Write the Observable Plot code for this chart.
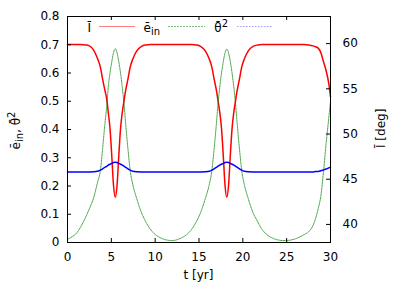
<!DOCTYPE html>
<html><head><meta charset="utf-8">
<script src="https://cdn.jsdelivr.net/npm/d3@7"></script>
<script src="https://cdn.jsdelivr.net/npm/@observablehq/plot@0.6"></script>
<style>body{margin:0;background:#fff} svg{display:block}</style>
</head><body><div id="chart"></div>
<script>
// time [yr]
const time = [0,0.5,1,1.5,2,2.5,3,3.4,3.75,4.0,4.25,4.5,4.65,4.85,5.05,5.25,5.45,5.65,5.85,6.05,6.25,6.45,6.65,6.9,7.15,7.45,7.9,8.45,8.95,9.45,9.95,10.45,10.95,11.45,11.8,12.3,12.67,13.17,13.67,14.17,14.67,15.17,15.72,16.17,16.47,16.72,16.97,17.17,17.37,17.57,17.77,17.97,18.17,18.37,18.57,18.77,18.97,19.17,19.37,19.62,19.87,20.17,20.62,21.17,21.72,22.17,22.67,23.17,23.67,24.17,24.53,25,25.5,26,26.5,27,27.5,28,28.3,28.6,28.9,29.2,29.5,29.8,30];
// eccentricity e_in (left axis)
const eIn = [0.011,0.02,0.032,0.055,0.085,0.12,0.16,0.21,0.255,0.33,0.415,0.49,0.55,0.60,0.64,0.672,0.686,0.672,0.64,0.60,0.55,0.49,0.415,0.33,0.255,0.205,0.155,0.105,0.072,0.047,0.03,0.019,0.012,0.008,0.007,0.008,0.012,0.019,0.03,0.047,0.072,0.105,0.155,0.205,0.255,0.33,0.415,0.49,0.55,0.60,0.64,0.672,0.684,0.672,0.64,0.60,0.55,0.49,0.415,0.33,0.255,0.205,0.155,0.105,0.072,0.047,0.03,0.019,0.012,0.008,0.007,0.007,0.009,0.013,0.02,0.028,0.038,0.06,0.085,0.12,0.165,0.25,0.35,0.44,0.50];
// inclination I [deg] (right axis)
const incDeg = [59.9,59.9,59.9,59.9,59.85,59.75,59.25,58.4,57.4,56.1,54.9,53.7,52.4,50.6,47.6,44.3,43.0,44.3,47.6,50.6,52.4,53.7,54.9,56.1,57.4,58.3,59.2,59.7,59.85,59.9,59.9,59.9,59.9,59.9,59.9,59.9,59.9,59.9,59.9,59.9,59.85,59.7,59.2,58.3,57.4,56.1,54.9,53.7,52.4,50.6,47.6,44.3,43.0,44.3,47.6,50.6,52.4,53.7,54.9,56.1,57.4,58.3,59.2,59.7,59.85,59.9,59.9,59.9,59.9,59.9,59.9,59.9,59.9,59.9,59.9,59.9,59.85,59.75,59.65,59.5,59.0,58.0,57.0,55.6,54.1];
// theta^2 (left axis)
const theta2 = [0.25,0.25,0.25,0.25,0.25,0.25,0.2505,0.252,0.256,0.261,0.266,0.270,0.274,0.277,0.280,0.283,0.284,0.283,0.280,0.277,0.274,0.270,0.266,0.261,0.256,0.252,0.2505,0.25,0.25,0.25,0.25,0.25,0.25,0.25,0.25,0.25,0.25,0.25,0.25,0.25,0.25,0.25,0.2505,0.252,0.256,0.261,0.266,0.270,0.274,0.277,0.280,0.283,0.284,0.283,0.280,0.277,0.274,0.270,0.266,0.261,0.256,0.252,0.2505,0.25,0.25,0.25,0.25,0.25,0.25,0.25,0.25,0.25,0.25,0.25,0.25,0.25,0.25,0.25,0.251,0.2515,0.254,0.257,0.260,0.264,0.267];

const xTicks = [0,5,10,15,20,25,30];
const yTicks = [0,0.1,0.2,0.3,0.4,0.5,0.6,0.7,0.8];
const degTicks = [40,45,50,55,60];
const xDomain = [0,30];
const yDomain = [0,0.8];
const degDomain = [38,63];

const toLeft = d => (d - degDomain[0]) / (degDomain[1] - degDomain[0]) * (yDomain[1] - yDomain[0]) + yDomain[0];
const toDeg = v => (v - yDomain[0]) / (yDomain[1] - yDomain[0]) * (degDomain[1] - degDomain[0]) + degDomain[0];

const W = 409, H = 286, mL = 67, mR = 79, mT = 16, mB = 44;
const fw = W - mL - mR, fh = H - mT - mB;
const idx = time.map((_, i) => i);

const chart = Plot.plot({
  width: W, height: H,
  marginLeft: mL, marginRight: mR, marginTop: mT, marginBottom: mB,
  x: {domain: xDomain},
  y: {domain: yDomain},
  style: {fontFamily: "'DejaVu Sans', sans-serif", fontSize: "12px", color: "black", background: "white", overflow: "visible"},
  marks: [
    Plot.line(idx, {x: i => time[i], y: i => toLeft(incDeg[i]), stroke: "#ff0000", strokeWidth: 1.5, curve: "monotone-x"}),
    Plot.line(idx, {x: i => time[i], y: i => eIn[i], stroke: "#008000", strokeWidth: 1, strokeOpacity: 0.7, strokeDasharray: "2,1", curve: "monotone-x"}),
    Plot.line(idx, {x: i => time[i], y: i => theta2[i], stroke: "#0000ff", strokeWidth: 1.5, curve: "monotone-x"}),
    Plot.frame({stroke: "black"}),
    Plot.ruleX(xTicks, {x: d => d, insetTop: fh - 4, stroke: "black"}),
    Plot.ruleX(xTicks, {x: d => d, insetBottom: fh - 4, stroke: "black"}),
    Plot.ruleY(yTicks, {y: d => d, insetRight: fw - 4, stroke: "black"}),
    Plot.ruleY(degTicks, {y: d => toLeft(d), insetLeft: fw - 4, stroke: "black"}),
    Plot.axisX(xTicks, {tickSize: 0, tickPadding: 10, label: null, fontSize: 12}),
    Plot.axisY(yTicks, {tickSize: 0, tickPadding: 8, label: null, fontSize: 12, tickFormat: d => d === 0 ? "0" : d.toFixed(1)}),
    Plot.axisY(degTicks.map(toLeft), {anchor: "right", tickSize: 0, tickPadding: 12, label: null, fontSize: 12, tickFormat: d => String(Math.round(toDeg(d)))})
  ]
});
document.getElementById("chart").appendChild(chart);

const svg = d3.select(chart);
const fam = "'DejaVu Sans', sans-serif";
// x label
svg.append("text").attr("x", mL + fw / 2).attr("y", 279).attr("text-anchor", "middle")
  .attr("font-family", fam).attr("font-size", 12).attr("fill", "black").text("t [yr]");
// left y label
const ly = svg.append("text").attr("transform", "translate(20,149.5) rotate(-90)").attr("text-anchor", "start")
  .attr("font-family", fam).attr("font-size", 12).attr("fill", "black");
ly.append("tspan").text("ē");
ly.append("tspan").attr("dy", 3).attr("font-size", 10).text("in");
ly.append("tspan").attr("dy", -3).text(", θ\u0304");
ly.append("tspan").attr("dy", -5).attr("font-size", 10).text("2");
// right y label
svg.append("text").attr("transform", "translate(385,148) rotate(-90)").attr("text-anchor", "start")
  .attr("font-family", fam).attr("font-size", 12).attr("fill", "black").text("Ī [deg]");

// legend
const lg = svg.append("g").attr("font-family", fam).attr("font-size", 12).attr("fill", "black");
lg.append("text").attr("x", 91).attr("y", 32).attr("text-anchor", "end").text("Ī");
lg.append("line").attr("x1", 99).attr("x2", 135).attr("y1", 26.5).attr("y2", 26.5).attr("stroke", "#ff0000").attr("stroke-width", 1).attr("stroke-opacity", 0.5);
const t2 = lg.append("text").attr("x", 160).attr("y", 32).attr("text-anchor", "end");
t2.append("tspan").text("ē");
t2.append("tspan").attr("dy", 3).attr("font-size", 10).text("in");
lg.append("line").attr("x1", 168).attr("x2", 205).attr("y1", 26.5).attr("y2", 26.5).attr("stroke", "#008000").attr("stroke-width", 1).attr("stroke-opacity", 0.5).attr("stroke-dasharray", "2,1");
const t3 = lg.append("text").attr("x", 228).attr("y", 32).attr("text-anchor", "end");
t3.append("tspan").text("θ\u0304");
t3.append("tspan").attr("dy", -5).attr("font-size", 10).text("2");
lg.append("line").attr("x1", 237).attr("x2", 273).attr("y1", 26.5).attr("y2", 26.5).attr("stroke", "#4040ff").attr("stroke-width", 1).attr("stroke-opacity", 0.5).attr("stroke-dasharray", "1.5,1.5");
</script>
</body></html>
